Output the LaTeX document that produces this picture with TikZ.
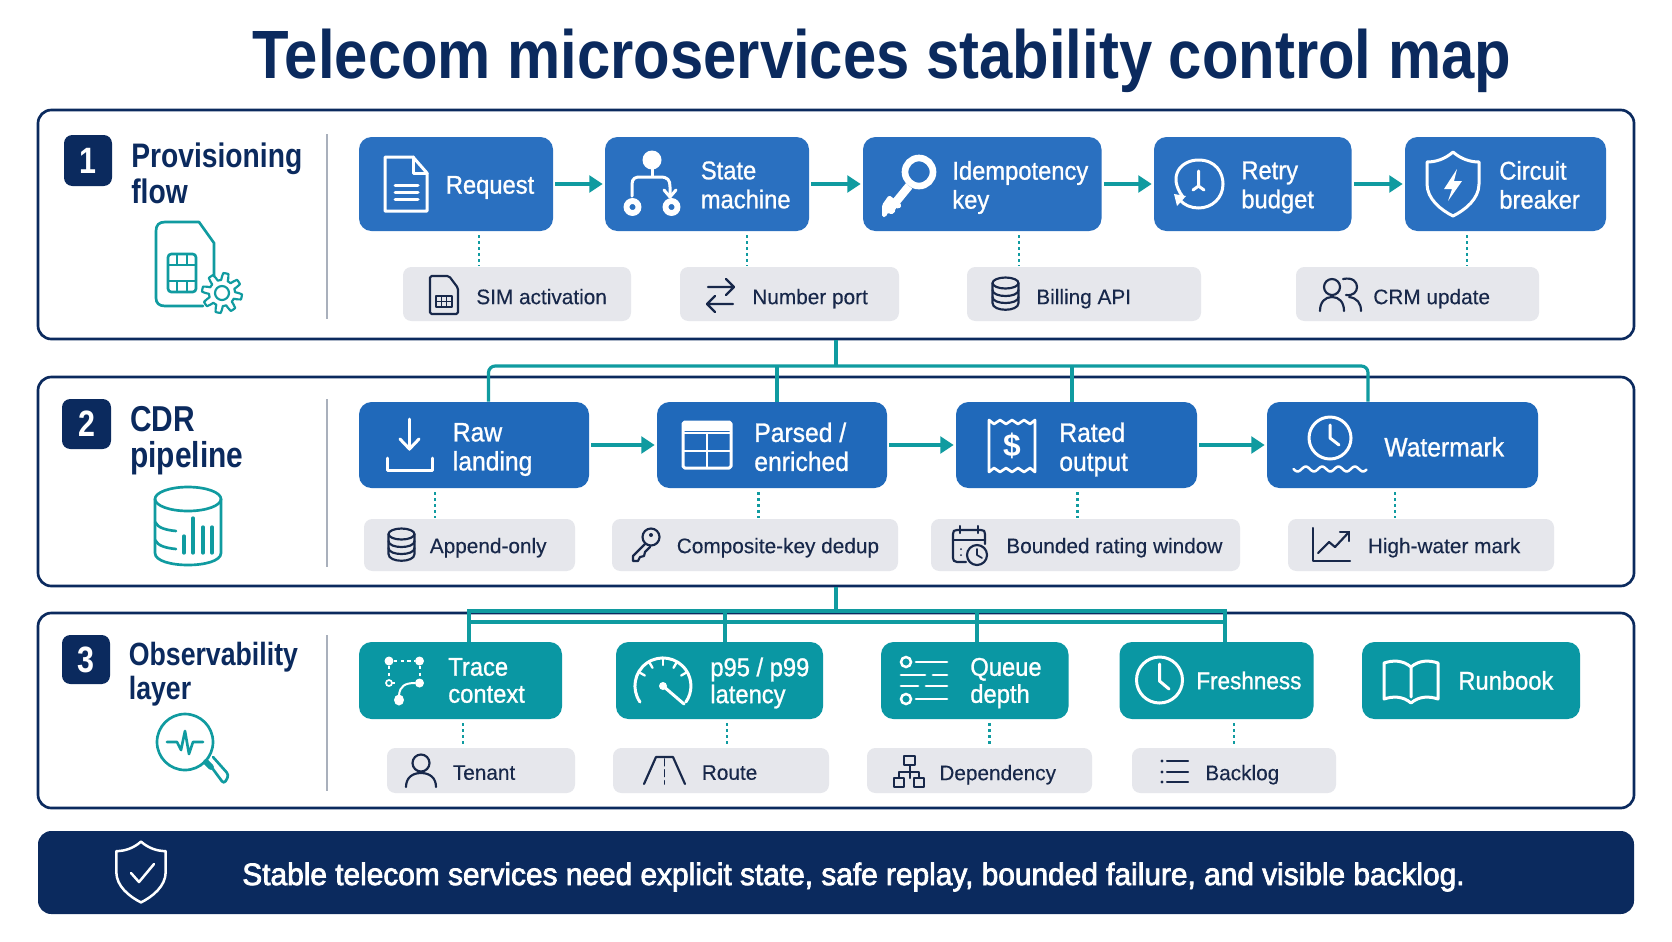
\documentclass[tikz,border=0pt]{standalone}
\usepackage{fontspec}
\usetikzlibrary{arrows.meta}
\setmainfont{Liberation Sans}
\newfontfamily\titlefont[FakeStretch=0.875]{Liberation Sans}
\newfontfamily\headfont[FakeStretch=0.83]{Liberation Sans}
\newfontfamily\boxfont[FakeStretch=0.925,FakeBold=1]{Liberation Sans}
\newfontfamily\chipfont[FakeStretch=0.99,FakeBold=0.3]{Liberation Sans}
\newfontfamily\bannerfont[FakeStretch=0.963,FakeBold=2.5]{Liberation Sans}

% one reference pixel
\def\px{0.6pt}

\definecolor{navy}{HTML}{0B2A5E}
\definecolor{flowblue}{HTML}{2A70C0}
\definecolor{pipeblue}{HTML}{2069BA}
\definecolor{obsteal}{HTML}{0A97A3}
\definecolor{linkteal}{HTML}{109BA0}
\definecolor{chipgrey}{HTML}{E6E7EC}
\definecolor{sepgrey}{HTML}{A9B0BC}
\definecolor{chipink}{HTML}{18284A}

\tikzset{
  panel/.style={draw=navy,line width=1.6pt,fill=white,rounded corners=8pt,minimum width={1596*\px}},
  badge/.style={fill=navy,rounded corners=5pt,text=white,font=\fontsize{22}{24}\selectfont\headfont\bfseries,inner sep=0pt},
  heading/.style={text=navy,align=left,inner sep=0pt,font=\fontsize{21}{21.5}\selectfont\headfont\bfseries},
  flowbox/.style={fill=#1,rounded corners=7.5pt,inner sep=0pt},
  evenline/.style={execute at begin node=\vphantom{T},execute at end node=\vphantom{g}},
  boxtext/.style={evenline,text=white,align=left,inner sep=0pt,font=\fontsize{15.4}{17.4}\selectfont\boxfont},
  chip/.style={fill=chipgrey,rounded corners=5pt,inner sep=0pt},
  chiptext/.style={evenline,text=chipink,inner sep=0pt,font=\fontsize{12.6}{14}\selectfont\chipfont},
  sepline/.style={draw=sepgrey,line width=1.3pt},
  flowarrow/.style={draw=linkteal,line width=2pt,shorten <=1.2pt,shorten >=1.2pt,-{Triangle[length=8pt,width=10pt]}},
  buslink/.style={draw=linkteal,line width=1.9pt},
  dotlink/.style={draw=linkteal,line width=1.5pt,dash pattern=on 1.5pt off 2.1pt,shorten <=2.4pt,shorten >=0.6pt},
  whitepen/.style={draw=white,line width=1.8pt,line cap=round,line join=round},
  navypen/.style={draw=chipink,line width=1.3pt,line cap=round,line join=round},
  tealpen/.style={draw=linkteal,line width=1.6pt,line cap=round,line join=round},
}

% shield outline round (0,0)
\def\shieldpath{(0,-32) .. controls (8,-25) and (17,-22) .. (26,-22) -- (26,0) .. controls (26,15) and (12,26) .. (0,32) .. controls (-12,26) and (-26,15) .. (-26,0) -- (-26,-22) .. controls (-17,-22) and (-8,-25) .. (0,-32) -- cycle}

% database stack, small
\newcommand{\dbicon}[2]{
  \begin{scope}[shift={(#1,#2)}]
    \draw[navypen] (-13,-10) -- (-13,10) .. controls (-13,19) and (13,19) .. (13,10) -- (13,-10);
    \draw[navypen] (0,-10) ellipse [x radius=13,y radius=5.5];
    \draw[navypen] (-13,-3) .. controls (-13,5) and (13,5) .. (13,-3);
    \draw[navypen] (-13,4) .. controls (-13,12) and (13,12) .. (13,4);
  \end{scope}
}

\begin{document}
\begin{tikzpicture}[x=0.6pt,y=-0.6pt]
\useasboundingbox (0,0) rectangle (1672,941);

% Title
\node[anchor=base,text=navy,inner sep=0pt,font=\fontsize{41}{44}\selectfont\titlefont\bfseries] (title) at (882,78) {Telecom microservices stability control map};

% Panels
\node[panel,minimum height={229*\px}] (flowpanel) at (836,224.5) {};
\node[panel,minimum height={209*\px}] (pipepanel) at (836,481.5) {};
\node[panel,minimum height={195*\px}] (obspanel) at (836,710.5) {};
\node[fill=navy,rounded corners=8pt,minimum width={1596*\px},minimum height={83*\px},inner sep=0pt] (banner) at (836,872.5) {};

% Badges and headings
\node[badge,minimum width={48*\px},minimum height={51*\px}] (one) at (88,160.5) {1};
\node[badge,minimum width={49*\px},minimum height={50*\px}] (two) at (86.5,424) {2};
\node[badge,minimum width={48*\px},minimum height={49*\px}] (three) at (86,659.5) {3};
\node[heading,anchor=west,font=\fontsize{20.4}{21.5}\selectfont\headfont\bfseries] (flowhead) at (131,173) {Provisioning\\flow};
\node[heading,anchor=west,font=\fontsize{21.6}{21.8}\selectfont\headfont\bfseries] (pipehead) at (130,440.5) {CDR\\pipeline};
\node[heading,anchor=west,font=\fontsize{19.3}{20.5}\selectfont\headfont\bfseries] (obshead) at (128.5,674) {Observability\\layer};

% Separators
\draw[sepline] (327,134) -- (327,319);
\draw[sepline] (327,399) -- (327,567);
\draw[sepline] (327,635) -- (327,791);

% Provisioning row: name/left/right/text start/text
\foreach \n/\xa/\xb/\tx/\txt in {req/359/553/445.5/Request,sm/605/809/700.5/{State\\machine},idem/863/1101.5/952/{Idempotency\\key},retry/1154/1351.5/1241/{Retry\\budget},breaker/1405/1606/1499/{Circuit\\breaker}}{
  \node[flowbox=flowblue,minimum width={(\xb-\xa)*\px},minimum height={94*\px}] (\n) at ({(\xa+\xb)/2},184) {};
  \node[boxtext,anchor=west] (\n t) at (\tx,187.5) {\txt};
}
% CDR row
\foreach \n/\xa/\xb/\tx/\txt in {raw/359/589/452.5/{Raw\\landing},parsed/657/887/754/{Parsed /\\enriched},rated/956/1197/1059/{Rated\\output},wmark/1267/1538/1384/Watermark}{
  \node[flowbox=pipeblue,minimum width={(\xb-\xa)*\px},minimum height={86*\px}] (\n) at ({(\xa+\xb)/2},445) {};
  \node[boxtext,anchor=west,font=\fontsize{16}{17.4}\selectfont\boxfont] (\n t) at (\tx,449.5) {\txt};
}
% Observability row
\foreach \n/\xa/\xb/\tx/\txt in {trace/359/562/448/{Trace\\context},lat/616/823/710/{p95 / p99\\latency},queue/881/1068.5/970/{Queue\\depth},fresh/1119.5/1313.5/1196/{\fontsize{14.6}{16.2}\selectfont Freshness},book/1362/1580/1458/Runbook}{
  \node[flowbox=obsteal,minimum width={(\xb-\xa)*\px},minimum height={77*\px}] (\n) at ({(\xa+\xb)/2},680.5) {};
  \node[boxtext,anchor=west,font=\fontsize{15.4}{16.2}\selectfont\boxfont] (\n t) at (\tx,683) {\txt};
}

% Chips
\foreach \n/\xa/\xb/\tx/\txt in {simc/403/631/476/SIM activation,port/680/899/752/Number port,bill/967/1201/1036/Billing API,crm/1296/1539/1373/CRM update}{
  \node[chip,minimum width={(\xb-\xa)*\px},minimum height={54*\px}] (\n) at ({(\xa+\xb)/2},294) {};
  \node[chiptext,anchor=west] (\n t) at (\tx,298.7) {\txt};
}
\foreach \n/\xa/\xb/\tx/\txt in {app/364/575/429.5/Append-only,dedup/612/898/676.5/Composite-key dedup,window/931/1240/1006/Bounded rating window,high/1288/1554/1367.5/High-water mark}{
  \node[chip,minimum width={(\xb-\xa)*\px},minimum height={52*\px}] (\n) at ({(\xa+\xb)/2},545) {};
  \node[chiptext,anchor=west] (\n t) at (\tx,547.7) {\txt};
}
\foreach \n/\xa/\xb/\tx/\txt in {tenant/387/575/452.5/Tenant,route/613/829/701.5/Route,dep/867/1092/939/Dependency,blog/1132/1336/1205/Backlog}{
  \node[chip,minimum width={(\xb-\xa)*\px},minimum height={45*\px}] (\n) at ({(\xa+\xb)/2},770.5) {};
  \node[chiptext,anchor=west] (\n t) at (\tx,774.7) {\txt};
}

% Banner text
\node[anchor=west,text=white,inner sep=0pt,font=\fontsize{18.6}{20}\selectfont\bannerfont] (bannertext) at (242,877) {Stable telecom services need explicit state, safe replay, bounded failure, and visible backlog.};

% Arrows along each row
\foreach \a/\b in {req/sm,sm/idem,idem/retry,retry/breaker,raw/parsed,parsed/rated,rated/wmark}
  \draw[flowarrow] (\a) -- (\b);

% Dotted links down to the chips
\foreach \a/\b/\x in {req/simc/479,sm/port/747,idem/bill/1019,breaker/crm/1467,raw/app/435,parsed/dedup/758.5,rated/window/1077.5,wmark/high/1395,trace/tenant/463,lat/route/727,queue/dep/989.5,fresh/blog/1234}
  \draw[dotlink] (\a.south -| \x,0) -- (\b.north -| \x,0);

% Bus from provisioning into the CDR row
\coordinate (busa) at (flowpanel.south |- 0,366);
\draw[buslink] (flowpanel.south) -- (busa);
\draw[buslink,rounded corners=4pt] (raw.north -| 488.5,0) |- (busa) -| (wmark.north -| 1368,0);
\draw[buslink] (parsed.north -| 777,0) -- (777,366);
\draw[buslink] (rated.north -| 1072,0) -- (1072,366);

% Double bus from CDR into the observability row
\coordinate (busb) at (pipepanel.south |- 0,611);
\draw[buslink] (pipepanel.south) -- (busb);
\draw[buslink] (trace.north -| 469,0) |- (busb) -| (fresh.north -| 1225,0);
\draw[buslink] (469,622) -- (1225,622);
\draw[buslink] (lat.north -| 725,0) -- (725,611);
\draw[buslink] (queue.north -| 977,0) -- (977,611);

% Panel icons: SIM card and gear
\draw[tealpen] (214,276) -- (214,243) -- (199,222) -- (165,222) .. controls (159,222) and (156,225) .. (156,231) -- (156,298) .. controls (156,303) and (159,306) .. (165,306) -- (203,306);
\draw[tealpen,rounded corners=2pt] (168,254) rectangle (196,292);
\draw[tealpen,line width=1.2pt] (168,265) -- (196,265) (168,281) -- (196,281) (177,254) -- (177,265) (187,254) -- (187,265) (177,281) -- (177,292) (187,281) -- (187,292);
\draw[tealpen,line width=1.3pt] plot[domain=0:360,samples=97] ({222+(16.5+3.5*sign(sin(8*\x)))*cos(\x)},{293+(16.5+3.5*sign(sin(8*\x)))*sin(\x)}) -- cycle;
\draw[tealpen,line width=1.3pt] (222,293) circle [radius=7];

% Panel icons: cylinder with bars
\draw[tealpen] (155,499) -- (155,553) .. controls (155,569) and (221,569) .. (221,553) -- (221,499);
\draw[tealpen] (188,499) ellipse [x radius=33,y radius=12];
\draw[tealpen] (155,522) .. controls (158,528) and (166,530) .. (176,531);
\draw[tealpen] (155,540) .. controls (158,546) and (166,548) .. (176,549);
\foreach \x/\t in {184/536,193/518,203/527,212/527}
  \draw[tealpen,line width=2pt] (\x,553) -- (\x,\t);

% Panel icons: magnifier with pulse
\draw[tealpen] (185,742) circle [radius=28];
\draw[tealpen,line width=3.5pt] (206,762) -- (211,767);
\draw[tealpen,rounded corners=2pt] (207,761) -- (224,784) -- (229,775) -- (213,757);
\draw[tealpen] (167,742) -- (177,742) -- (181,750) -- (185,731) -- (189,754) -- (193,742) -- (203,742);

% Request: document
\begin{scope}[shift={(406,184)}]
  \draw[whitepen] (-21,-27) -- (7,-27) -- (21,-11) -- (21,27) -- (-21,27) -- cycle;
  \draw[whitepen] (7,-27) -- (7,-11) -- (21,-11);
  \draw[whitepen] (-11,1) -- (12,1) (-11,8) -- (12,8) (-11,15) -- (12,15);
\end{scope}

% State machine: branching
\fill[white] (652,160) circle [radius=9.5];
\draw[whitepen] (652,169) -- (652,176);
\draw[whitepen] (632,196) -- (632,184) .. controls (632,178) and (636,177) .. (640,177) -- (660,177) .. controls (668,177) and (670,180) .. (670,187) -- (670,195);
\draw[whitepen] (664,190) -- (670,197) -- (676,190);
\draw[white,line width=3.5pt] (632.5,207) circle [radius=6];
\draw[white,line width=3.5pt] (671.5,207) circle [radius=6];

% Idempotency: key
\draw[white,line width=4pt] (919,172) circle [radius=14];
\draw[white,line width=5pt] (909,186) -- (891,208);
\fill[white,rounded corners=1pt] (882,205) -- (889,195) -- (902,205) -- (899,209) -- (894,207) -- (896,211) -- (891,215) -- (888,212) -- (886,217) -- (882,217) -- cycle;

% Retry: clock with return arrow
\draw[whitepen] (1183,197) .. controls (1167,176) and (1181,160) .. (1198.5,160) .. controls (1216,160) and (1223,173) .. (1223,184) .. controls (1223,198) and (1212,208) .. (1198.5,208) .. controls (1191,208) and (1184,205) .. (1180,200);
\fill[white] (1174,194) -- (1186,196) -- (1177,206) -- cycle;
\draw[whitepen] (1198.5,171) -- (1198.5,186) (1193,190) -- (1198.5,186) -- (1204,190);

% Circuit breaker: shield and bolt
\begin{scope}[shift={(1453,184)}]
  \draw[whitepen] \shieldpath;
  \fill[white] (4,-15) -- (-9,5) -- (-1,5) -- (-5,17) -- (9,-3) -- (1,-3) -- cycle;
\end{scope}

% Raw landing: down arrow into tray
\draw[whitepen] (409.5,419) -- (409.5,449);
\draw[whitepen] (400,439) -- (409.5,449) -- (419,439);
\draw[whitepen] (387,458) -- (387,470) -- (432,470) -- (432,458);

% Parsed: table
\draw[whitepen,rounded corners=1pt] (683,422) rectangle (731,468);
\fill[white] (683,422) rectangle (731,431);
\draw[whitepen,line width=1.5pt] (683,433) -- (731,433) (683,451) -- (731,451) (707,433) -- (707,468);

% Rated: receipt
\draw[whitepen,line width=1.6pt] (989,420) -- (994,424) -- (1000,420) -- (1006,424) -- (1012,420) -- (1018,424) -- (1024,420) -- (1030,424) -- (1035,420) -- (1035,472) -- (1030,468) -- (1024,472) -- (1018,468) -- (1012,472) -- (1006,468) -- (1000,472) -- (994,468) -- (989,472) -- cycle;
\node[text=white,inner sep=0pt,font=\fontsize{19}{20}\selectfont\bfseries] (dollar) at (1012,446) {\$};

% Watermark: clock over waves
\draw[whitepen] (1330,438) circle [radius=21];
\draw[whitepen] (1330,425) -- (1330,438) -- (1339,445);
\draw[whitepen,line width=1.5pt] plot[domain=0:73,samples=50,smooth] ({1293.5+\x},{469+2.5*sin(\x*22)});

% Trace: span graph
\fill[white] (389,661) circle [radius=4.5] (419.5,661) circle [radius=4.5] (419.5,683) circle [radius=4.5] (399,700) ellipse [x radius=5,y radius=5.5];
\draw[white,line width=1pt] (389,683) circle [radius=3];
\draw[white,line width=1.2pt,dash pattern=on 2pt off 2pt] (394,661) -- (415,661) (389,666) -- (389,679) (419.5,666) -- (419.5,678) (392,683) -- (396,683);
\draw[white,line width=1.2pt] (399,695) .. controls (400,686) and (405,683) .. (415,683);

% Latency: gauge
\draw[whitepen] (640,702) arc [start angle=215,end angle=-35,radius=28*\px];
\foreach \a in {150,120,90,60,30}
  \draw[whitepen,line width=1.4pt] ({663+28*cos(\a)},{686-28*sin(\a)}) -- ({663+21*cos(\a)},{686-21*sin(\a)});
\draw[whitepen] (663,686) -- (684,704);
\fill[white] (663,686) circle [radius=4];

% Queue: sliders
\draw[white,line width=1.5pt] (906,662) circle [radius=5] (906,699) circle [radius=5];
\draw[whitepen,line width=1.7pt] (916,662) -- (947,662) (916,699) -- (947,699);
\draw[whitepen,line width=1.7pt] (901,675) -- (925,675) (933,675) -- (947,675) (901,686) -- (918,686) (926,686) -- (947,686);

% Freshness: clock
\draw[whitepen] (1159.5,680) circle [radius=23];
\draw[whitepen] (1159.5,664) -- (1159.5,681) -- (1169,689);

% Runbook: open book
\draw[whitepen] (1411,667) .. controls (1403,660) and (1393,660) .. (1384,663) -- (1384,699) .. controls (1393,696) and (1403,696) .. (1411,703) .. controls (1419,696) and (1429,696) .. (1438,699) -- (1438,663) .. controls (1429,660) and (1419,660) .. (1411,667) -- (1411,697);

% Chip icons: small SIM
\draw[navypen,rounded corners=1pt] (430,276) -- (449,276) -- (458,288) -- (458,314) -- (430,314) -- cycle;
\draw[navypen,line width=1pt] (436,296) rectangle (452,307);
\draw[navypen,line width=0.8pt] (441.3,296) -- (441.3,307) (446.6,296) -- (446.6,307) (436,301.5) -- (452,301.5);

% Chip icons: swap arrows
\draw[navypen] (708,287) -- (733,287) (726,279) -- (734,287) -- (726,295);
\draw[navypen] (733,304) -- (708,304) (715,296) -- (707,304) -- (715,312);

\dbicon{1005.5}{293}
\dbicon{401.5}{544}

% Chip icons: two users
\draw[navypen] (1332,287) circle [radius=8];
\draw[navypen] (1320,311) .. controls (1320,302) and (1325,297) .. (1332,297) .. controls (1339,297) and (1344,302) .. (1344,311);
\draw[navypen] (1343,279) .. controls (1353,277) and (1357,282) .. (1357,287) .. controls (1357,292) and (1353,296) .. (1346,295);
\draw[navypen] (1349,297) .. controls (1357,298) and (1361,303) .. (1361,311);

% Chip icons: small key
\draw[navypen] (651,537) circle [radius=8.5];
\fill[chipink] (651,535) circle [radius=2];
\draw[navypen] (645,544) -- (633,556) -- (633,561) -- (638,561) -- (640,557) -- (644,556) -- (645,552) -- (650,547);

% Chip icons: calendar and clock
\draw[navypen] (966,562) -- (957,562) .. controls (954,562) and (953,560) .. (953,558) -- (953,534) .. controls (953,531) and (954,530) .. (957,530) -- (981,530) .. controls (984,530) and (985,531) .. (985,534) -- (985,544);
\draw[navypen] (953,540) -- (985,540) (960,526) -- (960,533) (978,526) -- (978,533);
\draw[navypen] (977,555) circle [radius=10];
\draw[navypen,line width=1pt] (977,549) -- (977,555) -- (982,558);
\fill[chipink] (961,549) circle [radius=1] (961,555) circle [radius=1];

% Chip icons: rising chart
\draw[navypen] (1313,528) -- (1313,561) -- (1350,561);
\draw[navypen] (1318,553) -- (1329,542) -- (1335,547) -- (1349,532);
\draw[navypen] (1340,532) -- (1349,532) -- (1349,541);

% Chip icons: person
\draw[navypen] (421,763) circle [radius=8.5];
\draw[navypen] (406,787) .. controls (406,778) and (412,773) .. (421,773) .. controls (430,773) and (436,778) .. (436,787);

% Chip icons: road
\draw[navypen] (644,784) -- (656,757) -- (673,757) -- (685,784);
\draw[navypen,line width=1pt,dash pattern=on 4pt off 2.5pt] (664.5,759) -- (664.5,784);

% Chip icons: dependency tree
\draw[navypen,line width=1.2pt] (904,756) rectangle (915,765) (894,778) rectangle (904,787) (914,778) rectangle (924,787);
\draw[navypen,line width=1.2pt] (909.5,765) -- (909.5,778) (899,778) -- (899,771.5) -- (919,771.5) -- (919,778);

% Chip icons: backlog list
\draw[navypen] (1167,761) -- (1188,761) (1167,772) -- (1188,772) (1167,782) -- (1188,782);
\fill[chipink] (1162,761) circle [radius=1.7] (1162,772) circle [radius=1.7] (1162,782) circle [radius=1.7];

% Banner shield
\begin{scope}[shift={(141,872)},scale=0.95]
  \draw[whitepen,line width=1.5pt] \shieldpath;
\end{scope}
\draw[whitepen,line width=1.5pt] (131,873) -- (139,882) -- (154,864);

\end{tikzpicture}
\end{document}
